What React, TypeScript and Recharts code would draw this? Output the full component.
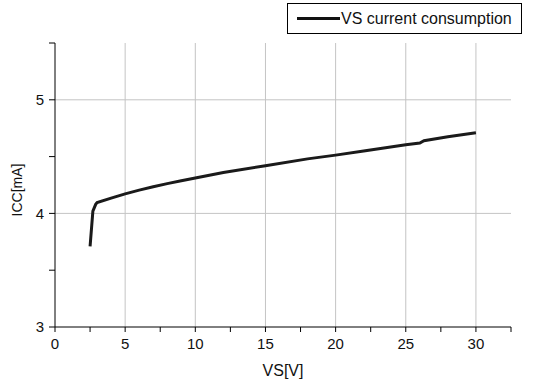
import React from 'react';
import { CartesianGrid, Legend, Line, LineChart, ReferenceLine, XAxis, YAxis } from 'recharts';

const vs = [2.5, 2.7, 2.9, 3, 4, 5, 6, 7, 8, 9, 10, 12, 15, 18, 20, 22, 25, 26, 26.3, 28, 30];
const icc = [3.71, 4.02, 4.08, 4.095, 4.135, 4.172, 4.205, 4.235, 4.262, 4.287, 4.312, 4.36, 4.42, 4.48, 4.513, 4.55, 4.605, 4.62, 4.64, 4.675, 4.71];

const xTicks = [0, 2.5, 5, 7.5, 10, 12.5, 15, 17.5, 20, 22.5, 25, 27.5, 30, 32.5];
const yTicks = [3, 3.5, 4, 4.5, 5, 5.5];
const xGrid = [5, 10, 15, 20, 25, 30];
const yGrid = [4, 5];

const data = vs.map((v, i) => ({ v, icc: icc[i] }));

const font = '"Liberation Sans", Arial, sans-serif';

function LegendBox() {
  return (
    <div
      style={{
        position: 'absolute',
        left: 287,
        top: 3,
        width: 235,
        height: 31,
        border: '1px solid #000',
        background: '#fff',
        boxSizing: 'border-box',
        display: 'flex',
        alignItems: 'center',
        fontFamily: font,
        fontSize: 16,
        color: '#111',
      }}
    >
      <span style={{ display: 'inline-block', width: 43, height: 3, background: '#111', marginLeft: 9, marginRight: 1 }} />
      <span>VS current consumption</span>
    </div>
  );
}

export default function App() {
  return (
    <div style={{ position: 'absolute', left: 0, top: 0, width: 533, height: 385, background: '#fff' }}>
      <LineChart width={533} height={385} data={data} margin={{ top: 43, right: 22, left: 0, bottom: 0 }}>
        <CartesianGrid stroke="none" />
        {xGrid.map((x) => (
          <ReferenceLine key={'x' + x} x={x} stroke="#c4c4c4" strokeWidth={1} />
        ))}
        {yGrid.map((y) => (
          <ReferenceLine key={'y' + y} y={y} stroke="#c4c4c4" strokeWidth={1} />
        ))}
        <XAxis
          dataKey="v"
          type="number"
          domain={[0, 32.5]}
          ticks={xTicks}
          interval={0}
          height={58}
          tickSize={5}
          tickMargin={6}
          stroke="#000"
          tick={{ fill: '#111', fontSize: 15, fontFamily: font }}
          tickFormatter={(t: number) => (t % 5 === 0 ? String(t) : '')}
          label={{ value: 'VS[V]', position: 'insideBottom', offset: 9, fill: '#111', fontSize: 16, fontFamily: font }}
        />
        <YAxis
          type="number"
          domain={[3, 5.5]}
          ticks={yTicks}
          interval={0}
          width={55}
          tickSize={6}
          tickMargin={5}
          stroke="#000"
          tick={{ fill: '#111', fontSize: 15, fontFamily: font }}
          tickFormatter={(t: number) => (t % 1 === 0 ? String(t) : '')}
          label={{
            content: () => (
              <text
                transform="translate(17,190) rotate(-90)"
                textAnchor="middle"
                dominantBaseline="central"
                fill="#111"
                fontSize={14}
                fontFamily={font}
              >
                ICC[mA]
              </text>
            ),
          }}
        />
        <Legend content={() => <LegendBox />} wrapperStyle={{ position: 'absolute', left: 0, top: 0, width: 0, height: 0 }} />
        <Line
          dataKey="icc"
          name="VS current consumption"
          type="linear"
          stroke="#1a1a1a"
          strokeWidth={3}
          dot={false}
          isAnimationActive={false}
        />
      </LineChart>
    </div>
  );
}
